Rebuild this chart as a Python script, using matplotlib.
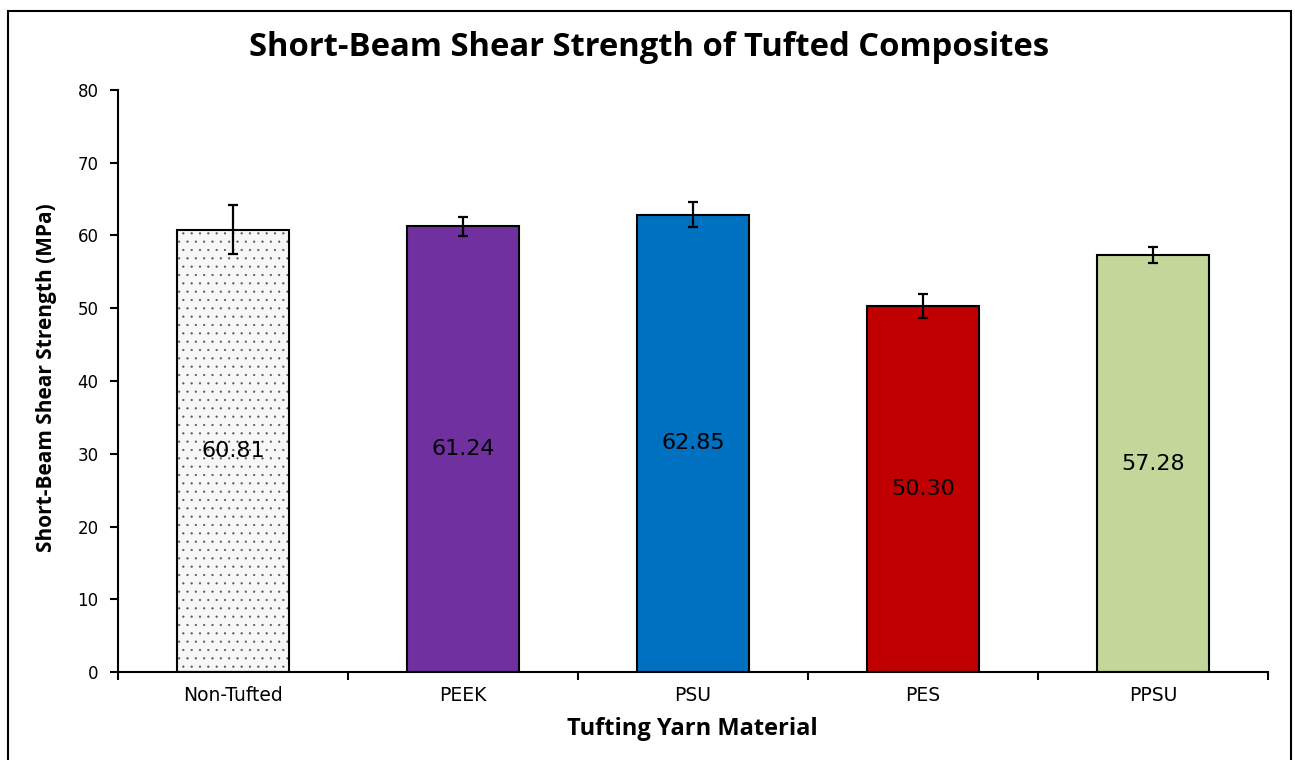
import matplotlib
matplotlib.use("Agg")
import matplotlib.pyplot as plt
from matplotlib.patches import Rectangle

categories = ["Non-Tufted", "PEEK", "PSU", "PES", "PPSU"]
values = [60.81, 61.24, 62.85, 50.30, 57.28]
errors = [3.4, 1.35, 1.75, 1.7, 1.1]
value_labels = ["60.81", "61.24", "62.85", "50.30", "57.28"]
colors = ["#F7F7F7", "#7030A0", "#0070C0", "#C00000", "#C4D79B"]
yticks = [0, 10, 20, 30, 40, 50, 60, 70, 80]

fig = plt.figure(figsize=(12.95, 7.6), dpi=100)
ax = fig.add_axes([118/1295, 1-672/760, (1268-118)/1295, (672-90)/760])

x = list(range(len(categories)))
width = 0.49
plt.rcParams["hatch.linewidth"] = 0.35
# hatch layer for first bar
ax.bar(x[0], values[0], width=width, color=colors[0], edgecolor="#555555",
       hatch="..", linewidth=0, zorder=2)
ax.bar(x[1:], values[1:], width=width, color=colors[1:], edgecolor="black",
       linewidth=1.5, zorder=2)
ax.bar(x[0], values[0], width=width, facecolor="none", edgecolor="black",
       linewidth=1.5, zorder=3)
ax.errorbar(x, values, yerr=errors, fmt="none", ecolor="black", elinewidth=1.6,
            capsize=3.6, capthick=1.6, zorder=4)

for xi, v, lab in zip(x, values, value_labels):
    ax.text(xi, v/2, lab, ha="center", va="center", fontsize=16,
            family="DejaVu Sans", color="black", zorder=5)

ax.set_xlim(-0.5, len(categories)-0.5)
ax.set_ylim(0, 80)
ax.set_yticks(yticks)
ax.set_yticklabels([str(t) for t in yticks], fontsize=12, family="DejaVu Sans")
ax.set_xticks([i - 0.5 for i in range(len(categories)+1)])
ax.set_xticklabels([])
ax.set_xticks(x, minor=True)
ax.set_xticklabels(categories, minor=True, fontsize=13.5, family="DejaVu Sans")
ax.tick_params(axis="x", which="minor", length=0, pad=10)
ax.tick_params(axis="x", which="major", length=6, width=1.5, direction="out")
ax.tick_params(axis="y", length=6, width=1.5, direction="out", pad=8)
for s in ["top", "right"]:
    ax.spines[s].set_visible(False)
for s in ["left", "bottom"]:
    ax.spines[s].set_linewidth(1.5)

fig.text(649/1295, 1-47/760, "Short-Beam Shear Strength of Tufted Composites",
         ha="center", va="center", fontsize=23.6, fontweight="bold", family="Open Sans")
fig.text(692/1295, 1-729/760, "Tufting Yarn Material", ha="center", va="center",
         fontsize=17, fontweight="bold", family="Open Sans")
fig.text(47/1295, 1-378/760, "Short-Beam Shear Strength (MPa)", ha="center", va="center",
         rotation=90, fontsize=15, fontweight="bold", family="Open Sans")

fig.patches.append(Rectangle((8/1295, -0.05), (1291-8)/1295, 1.05-11/760,
                             transform=fig.transFigure, fill=False,
                             edgecolor="black", linewidth=1.5))

fig.savefig("out.png", dpi=100)
